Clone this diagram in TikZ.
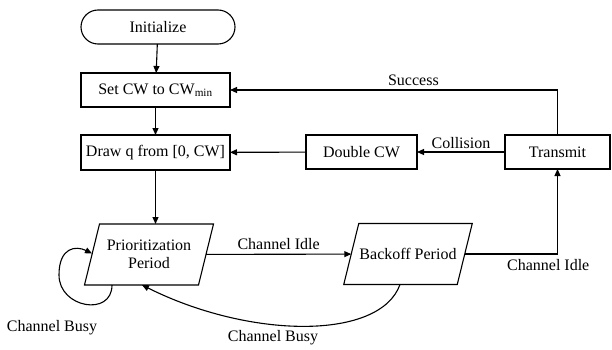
\documentclass[tikz,border=0pt]{standalone}
\usepackage{fontspec}
\setmainfont{Liberation Serif}
\usetikzlibrary{arrows.meta,shapes.misc}
\begin{document}
\begin{tikzpicture}[x=1pt,y=-1pt,
  every node/.style={font=\fontsize{16}{18}\selectfont, inner sep=0pt, outer sep=0pt},
  box/.style={draw, line width=1.1pt, minimum height=34pt},
  pgram/.style={minimum width=114pt, minimum height=61pt, align=center},
  conn/.style={line width=1.1pt, -{Triangle[length=7pt,width=6pt]}},
  lbl/.style={}
]
\useasboundingbox (0,0) rectangle (612,350);
\node[box, rounded rectangle, minimum width=154pt] (init) at (158,27) {Initialize};
\node[box, minimum width=149pt] (setcw) at (155.5,90) {Set CW to CW\textsubscript{min}};
\node[box, minimum width=149pt, minimum height=35pt] (drawq) at (155.5,152.5) {Draw q from [0, CW]};
\node[box, minimum width=111pt] (dbl) at (361.5,152) {Double CW};
\node[box, minimum width=105pt] (tx) at (557.5,152) {Transmit};
\node[pgram] (pp) at (149,254.5) {Prioritization\\Period};
\node[pgram, minimum width=113.5pt] (bo) at (408,254) {Backoff Period};
\foreach \n in {pp,bo}{
  \draw[line width=1.1pt] ([xshift=7.5pt]\n.north west) -- ([xshift=7.5pt]\n.north east)
    -- ([xshift=-7.5pt]\n.south east) -- ([xshift=-7.5pt]\n.south west) -- cycle;
}
\draw[conn] (init) -- (setcw);
\draw[conn] (setcw) -- (drawq);
\draw[conn] (drawq.south) -- (drawq.south |- pp.north);
\draw[conn] (dbl) -- (drawq);
\draw[conn] (tx) -- node[above=3pt, lbl] {Collision} (dbl);
\draw[conn] (tx.north) |- node[pos=0.72, above=4pt, lbl] {Success} (setcw.east);
\draw[conn] (pp) -- node[above=5pt, lbl] {Channel Idle} (bo);
\draw[conn] (bo.east) -| node[pos=0.45, below=5pt, lbl] {Channel Idle} (tx.south);
\coordinate (l1) at ([xshift=-33pt,yshift=10pt]pp.south west);
\draw[conn] ([xshift=20pt]pp.south west) .. controls +(0,32) and +(0,33) .. (l1)
  .. controls +(0,-28) and +(-16,-8) .. ([yshift=1pt]pp.west);
\node[lbl] (cb1) at (52,328) {Channel Busy};
\draw[conn] ([xshift=-8pt]bo.south) .. controls +(-20,56) and +(108,54) .. ([xshift=-7pt]pp.south);
\node[lbl] (cb2) at (273,338) {Channel Busy};
\end{tikzpicture}
\end{document}
